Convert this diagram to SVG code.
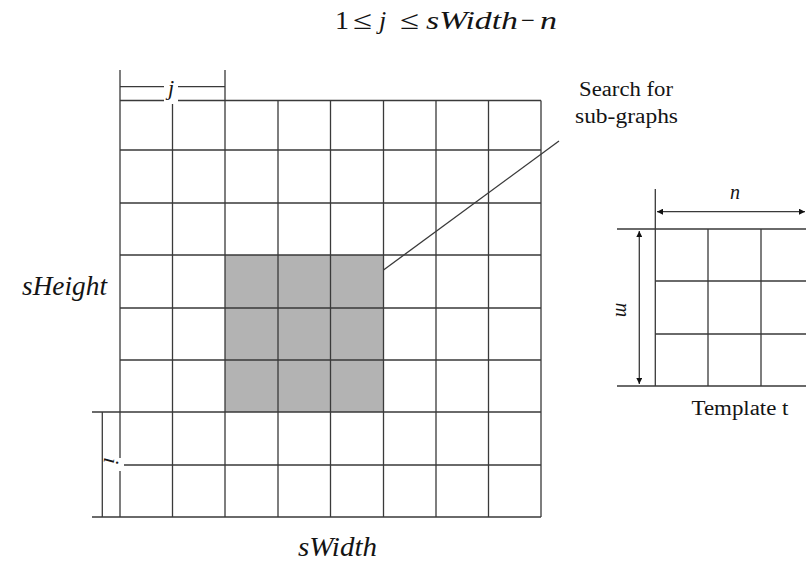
<svg xmlns="http://www.w3.org/2000/svg" width="806" height="563" viewBox="0 0 806 563">
<style>
.g{stroke:#3a3a3a;stroke-width:1.3;fill:none}
.t{fill:#141414}
.it{font-style:italic}
</style>
<defs>
<marker id="ah" viewBox="0 0 10 10" refX="10" refY="5" markerWidth="8" markerHeight="6" markerUnits="userSpaceOnUse" orient="auto-start-reverse">
<path d="M0,0 L10,5 L0,10 z" fill="#111"/>
</marker>
</defs>
<rect width="806" height="563" fill="#fff"/>

<g id="title" font-family="Liberation Serif, DejaVu Serif, serif">
<text class="t" font-size="26" x="335" y="29" textLength="14" lengthAdjust="spacingAndGlyphs">1</text>
<text class="t" font-size="26" x="353" y="29" textLength="19" lengthAdjust="spacingAndGlyphs">≤</text>
<text class="t it" font-size="26" x="379" y="29">j</text>
<text class="t" font-size="26" x="400" y="29" textLength="19" lengthAdjust="spacingAndGlyphs">≤</text>
<text class="t it" font-size="26" x="426" y="29" textLength="92" lengthAdjust="spacingAndGlyphs">sWidth</text>
<text class="t" font-size="26" x="521" y="29" textLength="14" lengthAdjust="spacingAndGlyphs">−</text>
<text class="t it" font-size="26" x="540" y="29" textLength="17" lengthAdjust="spacingAndGlyphs">n</text>
</g>

<g id="search-grid">
<rect x="225" y="255" width="158.5" height="157" fill="#b3b3b3"/>
<path class="g" d="M120,100.5H541 M120,150H541 M120,203H541 M120,255H541 M120,308H541 M120,360H541 M92,412H541 M120,465H541 M92,517H541"/>
<path class="g" d="M120,70V517 M172.5,100.5V517 M225,70V517 M278,100.5V517 M330.5,100.5V517 M383.5,100.5V517 M436,100.5V517 M488.5,100.5V517 M541,100.5V517"/>
</g>

<g id="template" font-family="Liberation Serif, DejaVu Serif, serif">
<path class="g" d="M617,229H806 M655,281H806 M655,334H806 M617,386H806"/>
<path class="g" d="M655.3,189V386 M708,229V386 M761,229V386"/>
<text class="t" font-size="20" x="691.5" y="415" textLength="97" lengthAdjust="spacingAndGlyphs">Template t</text>
</g>

<g id="connectors">
<path class="g" d="M383.5,270L559,141"/>
<path class="g" d="M120,86.7H225"/>
<path class="g" d="M102.3,412V517"/>
<path class="g" stroke="#222" d="M657,211.7H805" marker-start="url(#ah)" marker-end="url(#ah)"/>
<path class="g" stroke="#222" d="M639.3,231V384" marker-start="url(#ah)" marker-end="url(#ah)"/>
</g>

<g id="labels" font-family="Liberation Serif, DejaVu Serif, serif">
<rect x="164" y="76" width="14" height="28" fill="#fff"/>
<text class="t it" font-size="22" x="168" y="95">j</text>
<rect x="108" y="458" width="16" height="13" fill="#fff"/>
<text class="t it" font-size="22" transform="translate(104,460) rotate(96)" text-anchor="middle">i</text>
<text class="t it" font-size="20" transform="translate(616,310) rotate(90)" text-anchor="middle">m</text>
<text class="t it" font-size="20" x="735" y="199" text-anchor="middle">n</text>
<text class="t it" font-size="27" x="22" y="295" textLength="85" lengthAdjust="spacingAndGlyphs">sHeight</text>
<text class="t it" font-size="27" x="298" y="556" textLength="79" lengthAdjust="spacingAndGlyphs">sWidth</text>
<text class="t" font-size="20" x="579" y="96" textLength="94" lengthAdjust="spacingAndGlyphs">Search for</text>
<text class="t" font-size="20" x="575" y="122.5" textLength="103" lengthAdjust="spacingAndGlyphs">sub-graphs</text>
</g>
</svg>
